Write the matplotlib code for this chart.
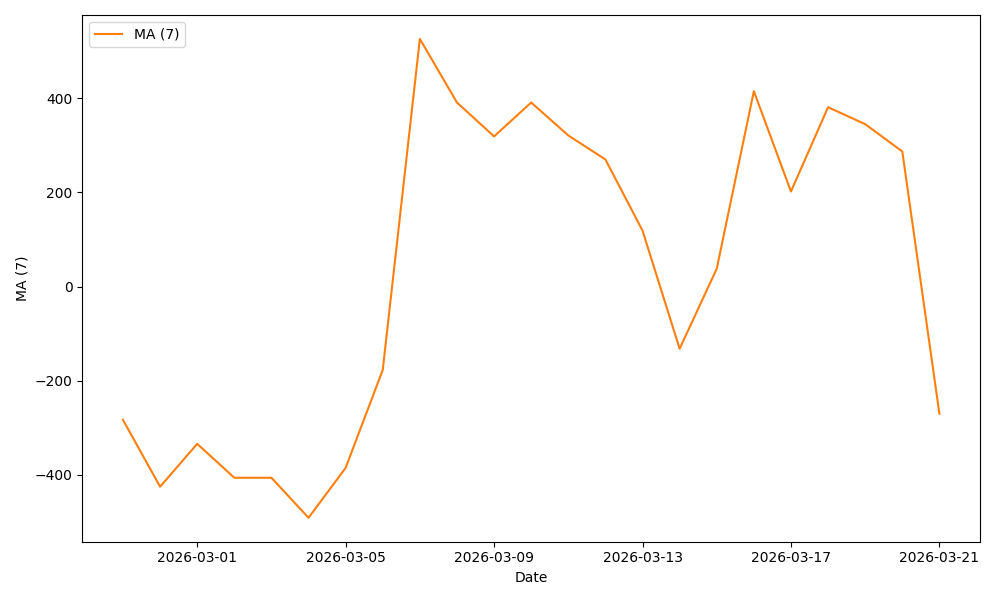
import numpy as np
import pandas as pd
import matplotlib
matplotlib.use("Agg")
import matplotlib.pyplot as plt
import matplotlib.dates as mdates

dates = pd.date_range("2026-02-27", "2026-03-21", freq="D")
ma7 = [-283, -425, -334, -406, -406, -491, -385, -177, 526, 391, 319, 391,
       321, 270, 119, -132, 38, 415, 202, 381, 345, 287, -270]

fig, ax = plt.subplots(figsize=(10, 6), dpi=100)
ax.plot(dates, ma7, color="#ff7f0e", label="MA (7)")
ax.set_xlabel("Date")
ax.set_ylabel("MA (7)")
ax.legend(loc="upper left")
ax.xaxis.set_major_locator(mdates.DayLocator(bymonthday=[1, 5, 9, 13, 17, 21, 25, 29]))
ax.xaxis.set_major_formatter(mdates.DateFormatter("%Y-%m-%d"))
fig.tight_layout()
fig.savefig("out.png")
